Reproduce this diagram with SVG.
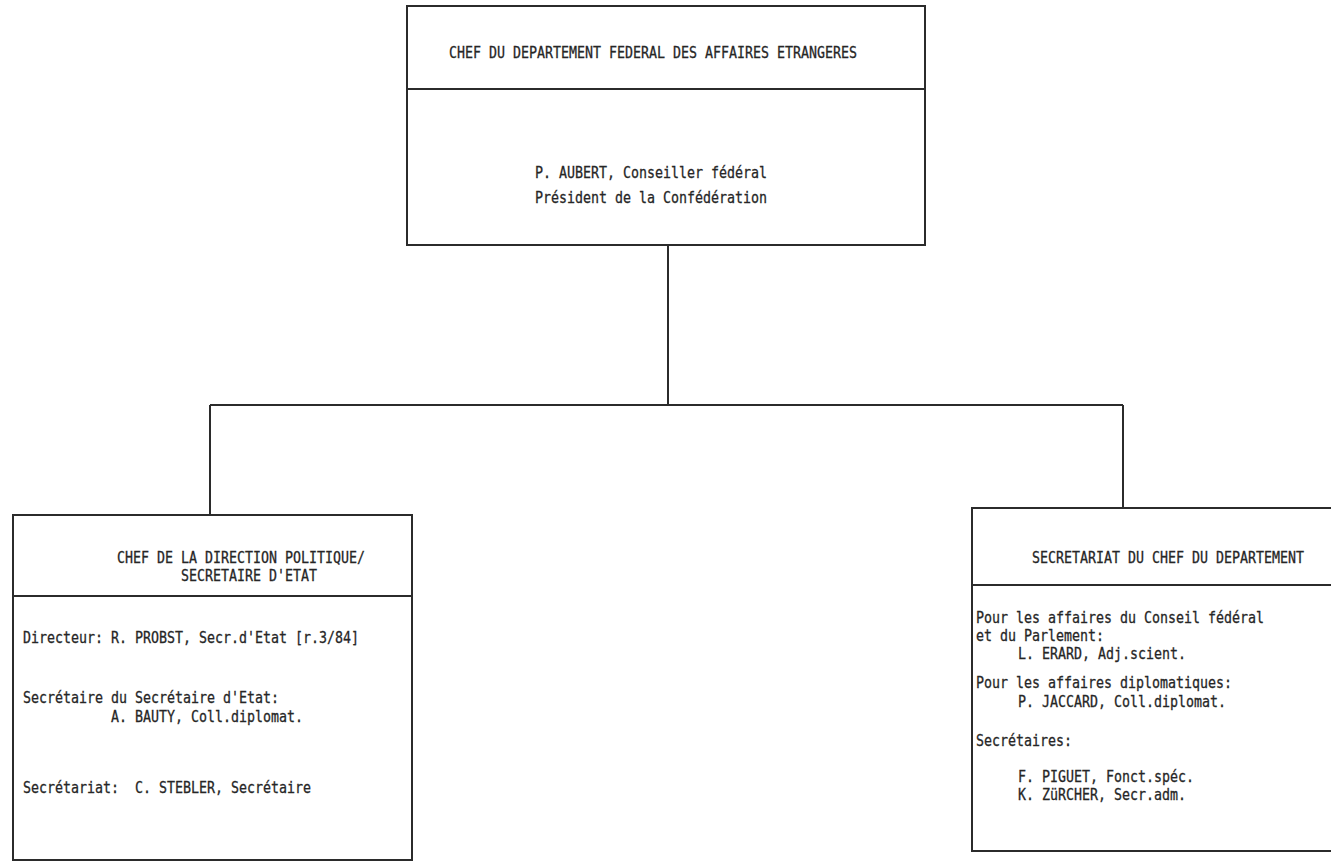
<svg xmlns="http://www.w3.org/2000/svg" width="1331" height="863" viewBox="0 0 1331 863">
  <style>
    .box { fill: none; stroke: #2b2b2b; stroke-width: 2; }
    .conn { fill: none; stroke: #2b2b2b; stroke-width: 2; }
    text { font-family: "DejaVu Sans Mono", "Liberation Mono", monospace; font-size: 16px; fill: #262626; stroke: #262626; stroke-width: 0.3; white-space: pre; }
  </style>
  <rect x="0" y="0" width="1331" height="863" fill="#ffffff"/>

  <g id="connectors">
    <path class="conn" d="M668,245 V405"/>
    <path class="conn" d="M210,405 H1123"/>
    <path class="conn" d="M210,405 V515"/>
    <path class="conn" d="M1123,405 V508"/>
  </g>

  <g id="node-top">
    <rect class="box" x="407" y="6" width="518" height="239"/>
    <line class="box" x1="407" y1="89" x2="925" y2="89"/>
    <text x="449" y="58" textLength="408" lengthAdjust="spacingAndGlyphs">CHEF DU DEPARTEMENT FEDERAL DES AFFAIRES ETRANGERES</text>
    <text x="535" y="178" textLength="232" lengthAdjust="spacingAndGlyphs">P. AUBERT, Conseiller fédéral</text>
    <text x="535" y="203" textLength="232" lengthAdjust="spacingAndGlyphs">Président de la Confédération</text>
  </g>

  <g id="node-left">
    <rect class="box" x="13" y="515" width="399" height="345"/>
    <line class="box" x1="13" y1="596" x2="412" y2="596"/>
    <text x="117" y="563" textLength="248" lengthAdjust="spacingAndGlyphs">CHEF DE LA DIRECTION POLITIQUE/</text>
    <text x="181" y="581" textLength="136" lengthAdjust="spacingAndGlyphs">SECRETAIRE D'ETAT</text>
    <text x="23" y="643" textLength="336" lengthAdjust="spacingAndGlyphs">Directeur: R. PROBST, Secr.d'Etat [r.3/84]</text>
    <text x="23" y="703" textLength="256" lengthAdjust="spacingAndGlyphs">Secrétaire du Secrétaire d'Etat:</text>
    <text x="111" y="722" textLength="192" lengthAdjust="spacingAndGlyphs">A. BAUTY, Coll.diplomat.</text>
    <text x="23" y="793" textLength="96" lengthAdjust="spacingAndGlyphs">Secrétariat:</text>
    <text x="135" y="793" textLength="176" lengthAdjust="spacingAndGlyphs">C. STEBLER, Secrétaire</text>
  </g>

  <g id="node-right">
    <rect class="box" x="972" y="508" width="370" height="343"/>
    <line class="box" x1="972" y1="585" x2="1331" y2="585"/>
    <text x="1032" y="563" textLength="272" lengthAdjust="spacingAndGlyphs">SECRETARIAT DU CHEF DU DEPARTEMENT</text>
    <text x="976" y="623" textLength="288" lengthAdjust="spacingAndGlyphs">Pour les affaires du Conseil fédéral</text>
    <text x="976" y="641" textLength="128" lengthAdjust="spacingAndGlyphs">et du Parlement:</text>
    <text x="1018" y="659" textLength="168" lengthAdjust="spacingAndGlyphs">L. ERARD, Adj.scient.</text>
    <text x="976" y="688" textLength="256" lengthAdjust="spacingAndGlyphs">Pour les affaires diplomatiques:</text>
    <text x="1018" y="707" textLength="208" lengthAdjust="spacingAndGlyphs">P. JACCARD, Coll.diplomat.</text>
    <text x="976" y="746" textLength="96" lengthAdjust="spacingAndGlyphs">Secrétaires:</text>
    <text x="1018" y="782" textLength="176" lengthAdjust="spacingAndGlyphs">F. PIGUET, Fonct.spéc.</text>
    <text x="1018" y="800" textLength="168" lengthAdjust="spacingAndGlyphs">K. ZüRCHER, Secr.adm.</text>
  </g>
</svg>
